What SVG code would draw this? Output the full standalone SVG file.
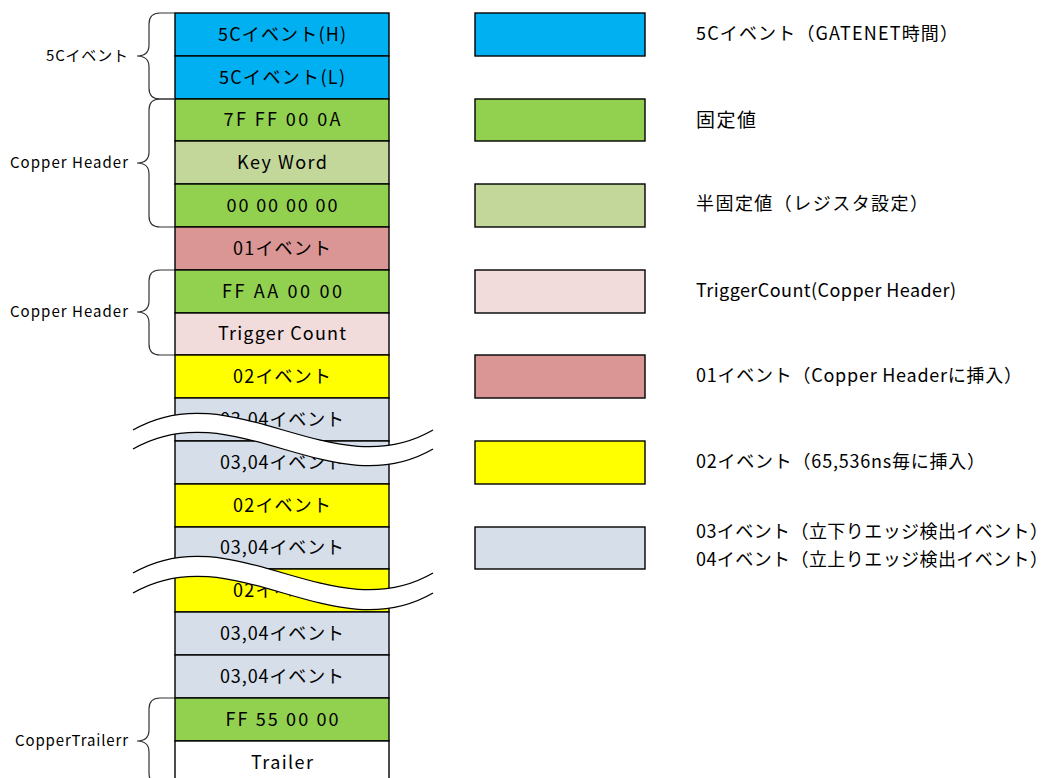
<svg xmlns="http://www.w3.org/2000/svg" width="1058" height="778" viewBox="0 0 1058 778">
<style>
.c{stroke:#000;stroke-width:1.4}
.blue{fill:#00B0F0}.grn{fill:#92D050}.olv{fill:#C4D79B}.rose{fill:#DA9694}.pink{fill:#F2DCDB}.yel{fill:#FFFF00}.gb{fill:#D5DEE9}.wht{fill:#FFFFFF}
text{font-family:"Noto Sans CJK JP","Liberation Sans",sans-serif;fill:#000}
.t{font-size:18px;text-anchor:middle}
.lg{font-size:18px}
.lg2{font-size:19px;letter-spacing:1.5px}
.lb{font-size:15px;text-anchor:end}
.br{fill:none;stroke:#333;stroke-width:1.2}
.wv{fill:none;stroke:#000;stroke-width:1.3}
</style>
<rect width="1058" height="778" fill="#fff"/>
<g id="n0"><rect class="c blue" x="175" y="13" width="214" height="43"/><text class="t" x="282" y="41" textLength="128" lengthAdjust="spacing">5Cイベント(H)</text></g>
<g id="n1"><rect class="c blue" x="175" y="56" width="214" height="43"/><text class="t" x="282" y="84" textLength="126" lengthAdjust="spacing">5Cイベント(L)</text></g>
<g id="n2"><rect class="c grn" x="175" y="99" width="214" height="42"/><text class="t" x="282" y="126" textLength="117" lengthAdjust="spacing">7F FF 00 0A</text></g>
<g id="n3"><rect class="c olv" x="175" y="141" width="214" height="43"/><text class="t" x="282" y="169" textLength="90" lengthAdjust="spacing">Key Word</text></g>
<g id="n4"><rect class="c grn" x="175" y="184" width="214" height="43"/><text class="t" x="282" y="212" textLength="111" lengthAdjust="spacing">00 00 00 00</text></g>
<g id="n5"><rect class="c rose" x="175" y="227" width="214" height="43"/><text class="t" x="282" y="255" textLength="98" lengthAdjust="spacing">01イベント</text></g>
<g id="n6"><rect class="c grn" x="175" y="270" width="214" height="43"/><text class="t" x="282" y="298" textLength="120" lengthAdjust="spacing">FF AA 00 00</text></g>
<g id="n7"><rect class="c pink" x="175" y="313" width="214" height="42"/><text class="t" x="282" y="340" textLength="128" lengthAdjust="spacing">Trigger Count</text></g>
<g id="n8"><rect class="c yel" x="175" y="355" width="214" height="43"/><text class="t" x="282" y="383" textLength="98" lengthAdjust="spacing">02イベント</text></g>
<g id="n9"><rect class="c gb" x="175" y="398" width="214" height="43"/><text class="t" x="282" y="426" textLength="124" lengthAdjust="spacing">03,04イベント</text></g>
<g id="n10"><rect class="c gb" x="175" y="441" width="214" height="43"/><text class="t" x="282" y="469" textLength="124" lengthAdjust="spacing">03,04イベント</text></g>
<g id="n11"><rect class="c yel" x="175" y="484" width="214" height="43"/><text class="t" x="282" y="512" textLength="98" lengthAdjust="spacing">02イベント</text></g>
<g id="n12"><rect class="c gb" x="175" y="527" width="214" height="42"/><text class="t" x="282" y="554" textLength="124" lengthAdjust="spacing">03,04イベント</text></g>
<g id="n13"><rect class="c yel" x="175" y="569" width="214" height="43"/><text class="t" x="282" y="597" textLength="98" lengthAdjust="spacing">02イベント</text></g>
<g id="n14"><rect class="c gb" x="175" y="612" width="214" height="43"/><text class="t" x="282" y="640" textLength="124" lengthAdjust="spacing">03,04イベント</text></g>
<g id="n15"><rect class="c gb" x="175" y="655" width="214" height="43"/><text class="t" x="282" y="683" textLength="124" lengthAdjust="spacing">03,04イベント</text></g>
<g id="n16"><rect class="c grn" x="175" y="698" width="214" height="43"/><text class="t" x="282" y="726" textLength="113" lengthAdjust="spacing">FF 55 00 00</text></g>
<g id="n17"><rect class="c wht" x="175" y="741" width="214" height="45"/><text class="t" x="282" y="769" textLength="62" lengthAdjust="spacing">Trailer</text></g>

<g id="break1">
<path d="M133,430 C233,372 333,488 433,430 L433,449 C333,507 233,391 133,449 Z" fill="#fff"/>
<path class="wv" d="M133,430 C233,372 333,488 433,430"/>
<path class="wv" d="M133,449 C233,391 333,507 433,449"/>
</g>
<g id="break2">
<path d="M133,573 C233,515 333,631 433,573 L433,593 C333,651 233,535 133,593 Z" fill="#fff"/>
<path class="wv" d="M133,573 C233,515 333,631 433,573"/>
<path class="wv" d="M133,593 C233,535 333,651 433,593"/>
</g>

<g id="connectors">
<path class="br" d="M175,13 H160 Q149,13 149,24 V45 Q149,56 137,56 Q149,56 149,67 V88 Q149,99 160,99 H175"/>
<path class="br" d="M175,99 H160 Q149,99 149,110 V152 Q149,163 137,163 Q149,163 149,174 V216 Q149,227 160,227 H175"/>
<path class="br" d="M175,270 H160 Q149,270 149,281 V301 Q149,312 137,312 Q149,312 149,323 V344 Q149,355 160,355 H175"/>
<path class="br" d="M175,698 H160 Q149,698 149,709 V730 Q149,741 137,741 Q149,741 149,752 V773 Q149,784 160,784 H175"/>
</g>

<g id="labels">
<text class="lb" x="128" y="61" textLength="82" lengthAdjust="spacing">5Cイベント</text>
<text class="lb" x="128" y="168" textLength="118" lengthAdjust="spacing">Copper Header</text>
<text class="lb" x="128" y="317" textLength="118" lengthAdjust="spacing">Copper Header</text>
<text class="lb" x="128" y="746" textLength="113" lengthAdjust="spacing">CopperTrailerr</text>
</g>

<g id="legend1"><rect class="c blue" x="475" y="13" width="170" height="43"/><text class="lg" x="696" y="40" textLength="262" lengthAdjust="spacing">5Cイベント（GATENET時間）</text></g>
<g id="legend2"><rect class="c grn" x="475" y="99" width="170" height="42"/><text class="lg2" x="696" y="127">固定値</text></g>
<g id="legend3"><rect class="c olv" x="475" y="184" width="170" height="43"/><text class="lg" x="696" y="210" textLength="232" lengthAdjust="spacing">半固定値（レジスタ設定）</text></g>
<g id="legend4"><rect class="c pink" x="475" y="270" width="170" height="43"/><text class="lg" x="696" y="297" textLength="260" lengthAdjust="spacing">TriggerCount(Copper Header)</text></g>
<g id="legend5"><rect class="c rose" x="475" y="355" width="170" height="43"/><text class="lg" x="696" y="382" textLength="326" lengthAdjust="spacing">01イベント（Copper Headerに挿入）</text></g>
<g id="legend6"><rect class="c yel" x="475" y="441" width="170" height="43"/><text class="lg" x="696" y="468" textLength="289" lengthAdjust="spacing">02イベント（65,536ns毎に挿入）</text></g>
<g id="legend7"><rect class="c gb" x="475" y="527" width="170" height="42"/><text class="lg" x="696" y="538" textLength="352" lengthAdjust="spacing">03イベント（立下りエッジ検出イベント）</text><text class="lg" x="696" y="566" textLength="352" lengthAdjust="spacing">04イベント（立上りエッジ検出イベント）</text></g>
</svg>
